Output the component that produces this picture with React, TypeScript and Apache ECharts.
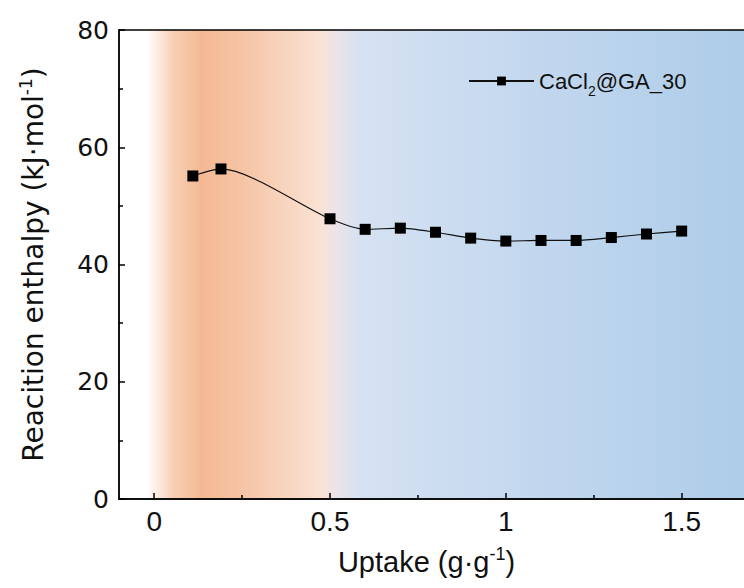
import React, { useEffect, useRef } from "react";
import * as echarts from "echarts";

const uptake = [0.11, 0.19, 0.5, 0.6, 0.7, 0.8, 0.9, 1.0, 1.1, 1.2, 1.3, 1.4, 1.5];
const enthalpy = [55.1, 56.3, 47.8, 46.0, 46.2, 45.5, 44.5, 44.0, 44.1, 44.1, 44.6, 45.2, 45.7];
const xMajorTicks = [0, 0.5, 1, 1.5];
const xMinorTicks = [0.25, 0.75, 1.25];
const seriesName = "CaCl2@GA_30";

export default function App() {
  const ref = useRef<HTMLDivElement>(null);
  useEffect(() => {
    if (!ref.current) return;
    const chart = echarts.init(ref.current, null, { renderer: "svg" });
    const bg = new echarts.graphic.LinearGradient(0, 0, 1, 0, [
      { offset: 0, color: "#FFFFFF" },
      { offset: 0.044, color: "#FFFFFF" },
      { offset: 0.085, color: "#F8D0B5" },
      { offset: 0.13, color: "#F4B993" },
      { offset: 0.19, color: "#F5C3A3" },
      { offset: 0.264, color: "#F8D5BF" },
      { offset: 0.318, color: "#FAE2D4" },
      { offset: 0.342, color: "#ECE3E8" },
      { offset: 0.379, color: "#D6E2F2" },
      { offset: 0.634, color: "#C4D8EF" },
      { offset: 1, color: "#ADCCE8" },
    ]);
    chart.setOption({
      animation: false,
      grid: {
        left: 119,
        top: 30,
        right: 0,
        bottom: 89,
        show: true,
        backgroundColor: bg,
        borderColor: "#000",
        borderWidth: 1.3,
      },
      legend: {
        left: 468,
        top: 70,
        padding: 0,
        itemWidth: 65,
        itemHeight: 11,
        itemGap: 7,
        data: [seriesName],
        formatter: () => "{n|CaCl}{sub|2}{n|@GA_30}",
        textStyle: {
          rich: {
            n: { fontFamily: "Liberation Sans", fontSize: 22, color: "#111", lineHeight: 26 },
            sub: { fontFamily: "Liberation Sans", fontSize: 14, color: "#111", verticalAlign: "bottom", lineHeight: 14, padding: [0, 0, -4, 0] },
          },
        },
      },
      xAxis: [
        {
          type: "value",
          min: -0.1,
          max: 1.7,
          name: "{n|Uptake (g·g}{sup|-1}{n|)}",
          nameLocation: "middle",
          nameGap: 46,
          nameTextStyle: {
            padding: [0, 18, 0, 0],
            rich: {
              n: { fontFamily: "Liberation Sans", fontSize: 29, color: "#111", lineHeight: 33 },
              sup: { fontFamily: "Liberation Sans", fontSize: 18, color: "#111", verticalAlign: "top", lineHeight: 18 },
            },
          },
          axisLine: { show: true, onZero: false, lineStyle: { color: "#000", width: 1.5 } },
          axisTick: { show: true, inside: true, length: 6, lineStyle: { color: "#000", width: 1.5 }, customValues: xMajorTicks },
          axisLabel: {
            customValues: xMajorTicks,
            fontFamily: "Liberation Sans",
            fontSize: 28,
            color: "#111",
            margin: 8,
            formatter: (v: number) => String(v),
          },
          splitLine: { show: false },
        },
        {
          type: "value",
          min: -0.1,
          max: 1.7,
          position: "bottom",
          axisLine: { show: false, onZero: false },
          axisTick: { show: true, inside: true, length: 4, lineStyle: { color: "#000", width: 1.5 }, customValues: xMinorTicks },
          axisLabel: { show: false },
          splitLine: { show: false },
        },
      ],
      yAxis: {
        type: "value",
        min: 0,
        max: 80,
        interval: 20,
        name: "{n|Reacition enthalpy (kJ·mol}{sup|-1}{n|)}",
        nameLocation: "middle",
        nameRotate: 90,
        nameGap: 70,
        nameTextStyle: {
          rich: {
            n: { fontFamily: "DejaVu Sans", fontSize: 28, color: "#111", lineHeight: 32 },
            sup: { fontFamily: "DejaVu Sans", fontSize: 17, color: "#111", verticalAlign: "top", lineHeight: 17 },
          },
        },
        axisLine: { show: true, onZero: false, lineStyle: { color: "#000", width: 1.5 } },
        axisTick: { show: true, inside: true, length: 6, lineStyle: { color: "#000", width: 1.5 } },
        minorTick: { show: true, splitNumber: 2, length: 4, lineStyle: { color: "#000", width: 1.5 } },
        axisLabel: { fontFamily: "DejaVu Sans", fontSize: 25, color: "#111", margin: 10 },
        splitLine: { show: false },
        minorSplitLine: { show: false },
      },
      series: [
        {
          name: seriesName,
          type: "line",
          xAxisIndex: 0,
          data: uptake.map((x, i) => [x, enthalpy[i]]),
          smooth: 0.25,
          symbol: "rect",
          symbolSize: 11,
          itemStyle: { color: "#000" },
          lineStyle: { color: "#111", width: 1.2 },
        },
      ],
    });
    return () => chart.dispose();
  }, []);
  return (
    <div
      ref={ref}
      style={{ position: "fixed", left: 0, top: 0, width: 752, height: 588, background: "#fff" }}
    />
  );
}
